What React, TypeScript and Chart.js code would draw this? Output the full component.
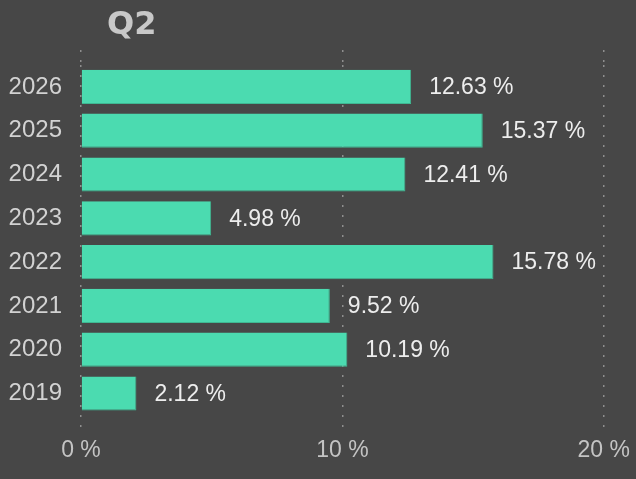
import React, { useEffect, useRef } from 'react';
import { Chart, registerables } from 'chart.js';

Chart.register(...registerables);

const years: string[] = ['2026', '2025', '2024', '2023', '2022', '2021', '2020', '2019'];
const shares: number[] = [12.63, 15.37, 12.41, 4.98, 15.78, 9.52, 10.19, 2.12];
const xTicks: number[] = [0, 10, 20];
const chartTitle = 'Q2';

const FONT = "'Liberation Sans', Arial, sans-serif";
const GRID = '#8e8e8e';
const DOTS = [2, 8];

const titlePlugin = {
  id: 'q2Title',
  afterDraw(chart: Chart) {
    const { ctx, chartArea } = chart;
    ctx.save();
    ctx.font = "bold 32px 'DejaVu Sans', sans-serif";
    ctx.fillStyle = '#c8c8c8';
    ctx.textAlign = 'left';
    ctx.textBaseline = 'alphabetic';
    ctx.fillText(chartTitle, chartArea.left + 26, 34);
    ctx.restore();
  }
};

const valueLabels = {
  id: 'valueLabels',
  afterDatasetsDraw(chart: Chart) {
    const { ctx } = chart;
    const meta = chart.getDatasetMeta(0);
    ctx.save();
    ctx.font = `23px ${FONT}`;
    ctx.fillStyle = '#ededed';
    ctx.textAlign = 'left';
    ctx.textBaseline = 'middle';
    meta.data.forEach((bar: any, i: number) => {
      ctx.fillText(`${shares[i].toFixed(2)} %`, bar.x + 18, bar.y + 1);
    });
    ctx.restore();
  }
};

const App: React.FC = () => {
  const chartRef = useRef<HTMLCanvasElement | null>(null);

  useEffect(() => {
    let barChart: Chart | undefined;
    if (chartRef.current) {
      barChart = new Chart(chartRef.current, {
        type: 'bar',
        data: {
          labels: years,
          datasets: [
            {
              label: chartTitle,
              data: shares,
              backgroundColor: '#4bdbb0',
              borderColor: '#3fb892',
              borderWidth: { top: 0, left: 0, right: 1, bottom: 1 },
              borderSkipped: false,
              barPercentage: 0.78,
              categoryPercentage: 1
            }
          ]
        },
        options: {
          indexAxis: 'y',
          animation: false,
          responsive: true,
          maintainAspectRatio: false,
          layout: { padding: { top: 50, left: 8, right: 31, bottom: 9 } },
          plugins: {
            legend: { display: false },
            title: { display: false },
            tooltip: { enabled: false }
          },
          scales: {
            x: {
              position: 'bottom',
              min: xTicks[0],
              max: xTicks[xTicks.length - 1],
              afterBuildTicks: (axis: any) => {
                axis.ticks = xTicks.map((v) => ({ value: v }));
              },
              ticks: {
                color: '#c4c4c4',
                font: { family: FONT, size: 23 },
                padding: 6,
                callback: (v: any) => `${v} %`
              },
              grid: {
                color: GRID,
                lineWidth: 1.5,
                tickLength: 15,
                tickColor: GRID,
                tickBorderDash: DOTS
              },
              border: { display: false, dash: DOTS }
            },
            x2: {
              position: 'top',
              min: xTicks[0],
              max: xTicks[xTicks.length - 1],
              afterBuildTicks: (axis: any) => {
                axis.ticks = xTicks.map((v) => ({ value: v }));
              },
              ticks: { display: false },
              grid: {
                drawOnChartArea: false,
                lineWidth: 1.5,
                tickLength: 15,
                tickColor: GRID,
                tickBorderDash: DOTS
              },
              border: { display: false }
            },
            y: {
              afterFit: (axis: any) => {
                axis.width = 73;
              },
              ticks: {
                color: '#d2d2d2',
                font: { family: FONT, size: 24 },
                padding: 19
              },
              grid: { display: false, drawTicks: false },
              border: { display: false }
            }
          }
        },
        plugins: [titlePlugin, valueLabels]
      });
    }

    return () => {
      if (barChart) {
        barChart.destroy();
      }
    };
  }, []);

  return (
    <div style={{ position: 'fixed', left: 0, top: 0, width: 636, height: 479, background: '#474747' }}>
      <canvas ref={chartRef} />
    </div>
  );
};

export default App;
